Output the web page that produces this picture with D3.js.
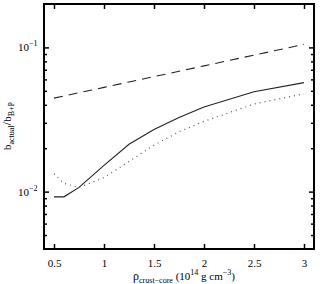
<!DOCTYPE html>
<html><head><meta charset="utf-8">
<script src="https://cdn.jsdelivr.net/npm/d3@7"></script>
<style>body{margin:0;background:#fff}svg{display:block}</style>
</head><body>
<script>
const xVals = [0.5, 0.6, 0.75, 1.0, 1.25, 1.5, 1.75, 2.0, 2.5, 3.0];
const solidVals = [0.0092, 0.0092, 0.0107, 0.0152, 0.0213, 0.0270, 0.0327, 0.0386, 0.0493, 0.0570];
const dottedVals = [0.0133, 0.0114, 0.0107, 0.0125, 0.0162, 0.0210, 0.0260, 0.0307, 0.0405, 0.0477];
const dashedVals = [0.0445, 0.0460, 0.0485, 0.0528, 0.0576, 0.0627, 0.0683, 0.0745, 0.0884, 0.1050];
const xTicks = [0.5, 1, 1.5, 2, 2.5, 3];
const xTickLabels = ["0.5", "1", "1.5", "2", "2.5", "3"];
const yMajor = [0.01, 0.1];
const yMajorExp = ["−2", "−1"];
const yMinor = [0.005, 0.006, 0.007, 0.008, 0.009, 0.02, 0.03, 0.04, 0.05, 0.06, 0.07, 0.08, 0.09];

const FONT = "'Liberation Serif', 'DejaVu Serif', serif";
const W = 321, H = 284;
const L = 44, R = 314, T = 4, B = 249;
const svg = d3.select("body").append("svg").attr("width", W).attr("height", H);
const x = d3.scaleLinear().domain([0.4, 3.1]).range([L, R]);
const y = d3.scaleLog().domain([0.004, 0.2]).range([B, T]);

// ticks
const gB = svg.append("g").attr("transform", `translate(0,${B})`)
  .call(d3.axisBottom(x).tickValues(xTicks).tickSize(-5).tickPadding(10).tickFormat((d,i)=>xTickLabels[i]));
gB.attr("font-family", FONT).attr("font-size", 11);
gB.selectAll("text").attr("fill","#000");
svg.append("g").attr("transform", `translate(0,${T})`)
  .call(d3.axisTop(x).tickValues(xTicks).tickSize(-5).tickFormat(""));
svg.append("g").attr("transform", `translate(${L},0)`)
  .call(d3.axisLeft(y).tickValues(yMajor).tickSize(-5).tickFormat(""));
svg.append("g").attr("transform", `translate(${L},0)`)
  .call(d3.axisLeft(y).tickValues(yMinor).tickSize(-3).tickFormat(""));
svg.append("g").attr("transform", `translate(${R},0)`)
  .call(d3.axisRight(y).tickValues(yMajor).tickSize(-5).tickFormat(""));
svg.append("g").attr("transform", `translate(${R},0)`)
  .call(d3.axisRight(y).tickValues(yMinor).tickSize(-3).tickFormat(""));
svg.selectAll(".domain").remove();
svg.selectAll(".tick line").attr("stroke","#000").attr("stroke-width",1.5);

// y tick labels with superscripts
yMajor.forEach((v,i)=>{
  const t = svg.append("text").attr("x", 18).attr("y", y(v)+4).attr("font-family",FONT).attr("font-size",11);
  t.append("tspan").text("10");
  t.append("tspan").attr("dy",-5).attr("font-size",8).text(yMajorExp[i]);
});

// lines
const line = vals => d3.line().x((d,i)=>x(xVals[i])).y(d=>y(d))(vals);
svg.append("path").attr("d", line(dashedVals)).attr("fill","none").attr("stroke","#222").attr("stroke-width",1.1).attr("stroke-dasharray","9,6");
svg.append("path").attr("d", line(solidVals)).attr("fill","none").attr("stroke","#222").attr("stroke-width",1.1);
svg.append("path").attr("d", line(dottedVals)).attr("fill","none").attr("stroke","#555").attr("stroke-width",1.2).attr("stroke-dasharray","1,4");

// frame
svg.append("rect").attr("x",L).attr("y",T).attr("width",R-L).attr("height",B-T).attr("fill","none").attr("stroke","#000").attr("stroke-width",2);

// x title
const xt = svg.append("text").attr("x", 184).attr("y", 280).attr("text-anchor","middle").attr("font-family",FONT).attr("font-size",11);
xt.append("tspan").attr("font-size",12).text("ρ");
xt.append("tspan").attr("dy",3).attr("font-size",8).text("crust−core");
xt.append("tspan").attr("dy",-3).text(" (10");
xt.append("tspan").attr("dy",-5).attr("font-size",8).text("14");
xt.append("tspan").attr("dy",5).text(" g cm");
xt.append("tspan").attr("dy",-5).attr("font-size",8).text("−3");
xt.append("tspan").attr("dy",5).text(")");

// y title
const yt = svg.append("text").attr("transform","translate(11,126) rotate(-90)").attr("text-anchor","middle").attr("font-family",FONT).attr("font-size",11);
yt.append("tspan").text("b");
yt.append("tspan").attr("dy",3).attr("font-size",8).text("actual");
yt.append("tspan").attr("dy",-3).attr("font-size",13).text("/");
yt.append("tspan").text("b");
yt.append("tspan").attr("dy",3).attr("font-size",8).text("B+P");
</script>
</body></html>
